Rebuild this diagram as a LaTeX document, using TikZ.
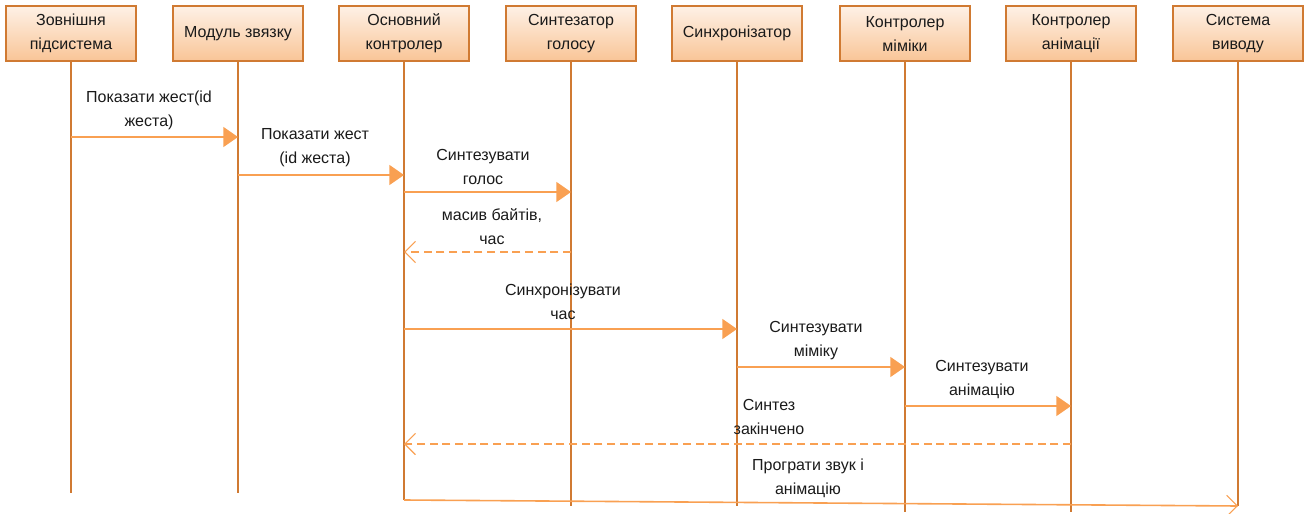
\documentclass[tikz,border=0pt]{standalone}
\usepackage{fontspec}
\setmainfont{Liberation Sans}
\usetikzlibrary{arrows.meta}
\definecolor{lifeC}{HTML}{D07A32}
\definecolor{msgC}{HTML}{F9A052}
\definecolor{boxTop}{HTML}{FEF1E6}
\definecolor{boxBot}{HTML}{F9C597}
\definecolor{txtC}{HTML}{1A1A1A}
\tikzset{
  actor/.style={draw=lifeC, line width=1.1pt, top color=boxTop, bottom color=boxBot,
    minimum width=97.5pt, minimum height=41pt, inner sep=0pt, align=center,
    text=txtC, font=\fontsize{12}{18}\selectfont},
  lifeline/.style={draw=lifeC, line width=0.9pt},
  callmsg/.style={draw=msgC, line width=1.2pt, -{Triangle[length=11pt,width=15pt]}},
  retmsg/.style={draw=msgC, line width=1pt, dashed, dash pattern=on 6pt off 3.5pt, -{Straight Barb[length=8pt,width=16pt,line width=0.8pt]}},
  openmsg/.style={draw=msgC, line width=1.2pt, -{Straight Barb[length=8pt,width=16pt,line width=0.8pt]}},
  lbl/.style={align=center, text=txtC, font=\fontsize{12}{18}\selectfont, inner sep=0pt}
}
\begin{document}
\begin{tikzpicture}[x=0.75pt,y=-0.75pt]
\useasboundingbox (0,0) rectangle (1304,514);
% actors
\node[actor] (a1) at (71,33.5) {Зовнішня\\підсистема};
\node[actor] (a2) at (238,33.5) {Модуль звязку};
\node[actor] (a3) at (404,33.5) {Основний\\контролер};
\node[actor] (a4) at (571,33.5) {Синтезатор\\голосу};
\node[actor] (a5) at (737,33.5) {Синхронізатор};
\node[actor] (a6) at (905,33.5) {Контролер\\міміки};
\node[actor] (a7) at (1071,33.5) {Контролер\\анімації};
\node[actor] (a8) at (1238,33.5) {Система\\виводу};
% lifeline ends
\coordinate (e1) at (71,493);
\coordinate (e2) at (238,493);
\coordinate (e3) at (404,500);
\coordinate (e4) at (571,506);
\coordinate (e5) at (737,506);
\coordinate (e6) at (905,512);
\coordinate (e7) at (1071,512);
\coordinate (e8) at (1238,506);
\foreach \i in {1,...,8} { \draw[lifeline] (a\i.south) -- (e\i); }
% message anchor points
\coordinate (m1a) at (71,137);  \coordinate (m1b) at (238,137);
\coordinate (m2a) at (238,175); \coordinate (m2b) at (404,175);
\coordinate (m3a) at (404,192); \coordinate (m3b) at (571,192);
\coordinate (m4a) at (571,252); \coordinate (m4b) at (404,252);
\coordinate (m5a) at (404,329); \coordinate (m5b) at (737,329);
\coordinate (m6a) at (737,367); \coordinate (m6b) at (905,367);
\coordinate (m7a) at (905,406); \coordinate (m7b) at (1071,406);
\coordinate (m8a) at (1071,444); \coordinate (m8b) at (404,444);
\coordinate (m9a) at (404,500); \coordinate (m9b) at (1238,506);
% messages
\draw[callmsg] (m1a) -- (m1b);
\draw[callmsg] (m2a) -- (m2b);
\draw[callmsg] (m3a) -- (m3b);
\draw[retmsg] (m4a) -- (m4b);
\draw[callmsg] (m5a) -- (m5b);
\draw[callmsg] (m6a) -- (m6b);
\draw[callmsg] (m7a) -- (m7b);
\draw[retmsg] (m8a) -- (m8b);
\draw[openmsg] (m9a) -- (m9b);
% labels
\node[lbl] (t1) at (149,110) {Показати жест(id\\жеста)};
\node[lbl] (t2) at (315,148) {Показати жест\\(id жеста)};
\node[lbl] (t3) at (483,167) {Синтезувати\\голос};
\node[lbl] (t4) at (492,227) {масив байтів,\\час};
\node[lbl] (t5) at (563,302) {Синхронізувати\\час};
\node[lbl] (t6) at (816,341) {Синтезувати\\міміку};
\node[lbl] (t7) at (982,380) {Синтезувати\\анімацію};
\node[lbl] (t8) at (769,417) {Синтез\\закінчено};
\node[lbl] (t9) at (808,478) {Програти звук і\\анімацію};
\end{tikzpicture}
\end{document}
